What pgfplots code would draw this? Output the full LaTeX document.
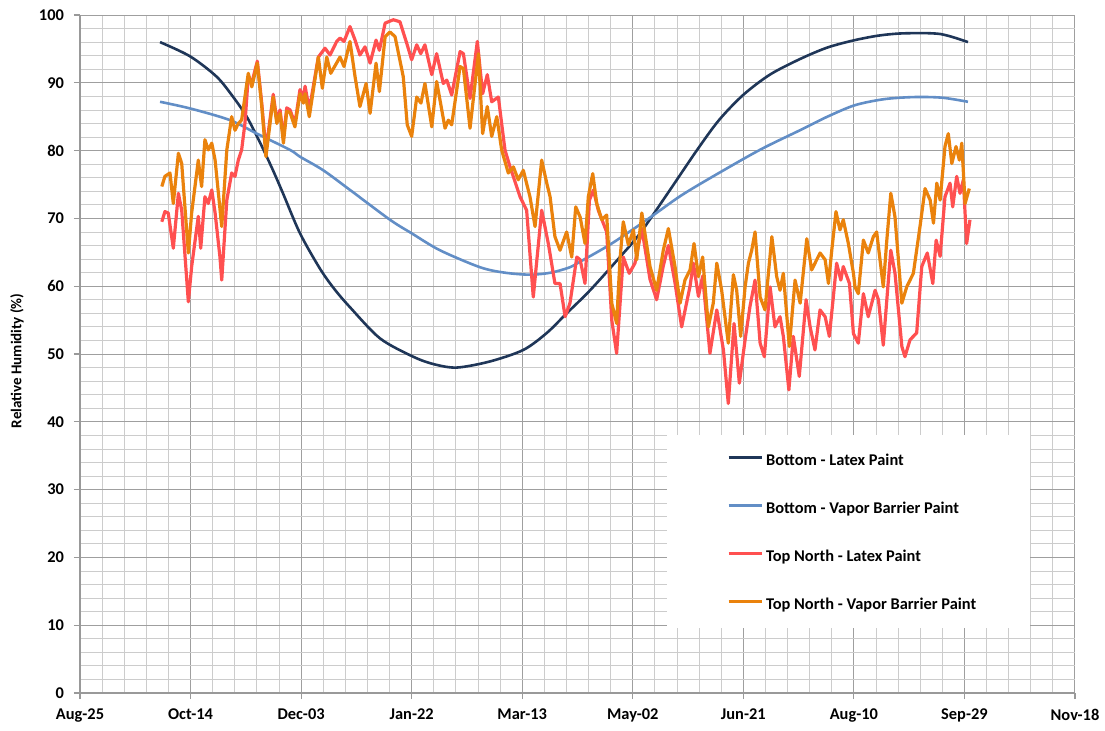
\documentclass[border=0pt]{standalone}
\usepackage{pgfplots}
\pgfplotsset{compat=1.18}
\usepackage{fontspec}
\setmainfont{Carlito}
\definecolor{cnavy}{RGB}{31,54,88}
\definecolor{clblue}{RGB}{98,142,198}
\definecolor{cred}{RGB}{255,80,80}
\definecolor{corange}{RGB}{234,130,12}
\begin{document}
\begin{tikzpicture}
\begin{axis}[name=ax, scale only axis, width=497.5pt, height=339pt,
 xmin=0, xmax=450, ymin=0, ymax=100,
 xtick={0,50,...,450},
 xticklabels={Aug-25,Oct-14,Dec-03,Jan-22,Mar-13,May-02,Jun-21,Aug-10,Sep-29,Nov-18},
 ytick={0,10,...,100},
 minor x tick num=4, minor y tick num=4,
 grid=both,
 major grid style={gray!75, line width=0.5pt},
 minor grid style={gray!40, line width=0.4pt},
 axis lines=left, axis line style={-, gray!80, line width=0.6pt},
 tick align=outside, major tick length=3pt, minor tick length=0pt,
 tick style={gray!80, line width=0.6pt},
 tick label style={font=\bfseries\fontsize{8.2}{10}\selectfont},
 /pgf/number format/assume math mode=true,
 xticklabel style={yshift=-1.5pt},
 yticklabel style={xshift=-1.5pt},
 ylabel={Relative Humidity (\%)},
 every axis y label/.style={at={(axis description cs:0,0.49)}, xshift=-31.5pt, rotate=90, anchor=center, font=\bfseries\fontsize{7.5}{9}\selectfont},
 legend style={draw=none, fill=none, at={(rel axis cs:0.650,0.358)}, anchor=north west,
   font=\bfseries\fontsize{8.2}{10}\selectfont, row sep=13pt, inner sep=0pt,
   nodes={inner sep=1.5pt, text height=6pt, text depth=2pt}},
 legend cell align=left,
 legend image code/.code={\draw[#1, line width=1.5pt] (0pt,2.2pt) -- (16.5pt,2.2pt);},
]
\addplot[cnavy, line width=1.3pt, smooth] coordinates {
(36.2,96.0)(49.8,93.9)(61.8,90.9)(69.3,87.9)(75.4,85.0)(81.4,81.2)(87,77.3)(91.8,73.7)(99.5,67.8)(108.5,62.6)(115,59.6)(122.1,56.9)(135.7,52.3)(150.7,49.6)(160,48.5)(170.4,48.0)(185.4,48.9)(200.5,50.6)(211.1,53.1)(220.1,56.0)(230.7,59.4)(244.2,64.3)(253.3,67.8)(266,73.8)(279.1,80.1)(289,84.5)(299.9,88.2)(312,91.2)(325.6,93.5)(338,95.2)(350.5,96.3)(362,97.0)(373.1,97.3)(389.0,97.2)(401.6,96.0)
};
\addlegendentry{Bottom - Latex Paint}
\addplot[clblue, line width=1.3pt, smooth] coordinates {
(36.2,87.2)(50,86.2)(67.8,84.5)(80,82.5)(95.0,80.1)(99.5,79.1)(110,77.1)(122.1,74.2)(140.2,69.8)(150,67.8)(162.8,65.3)(180.9,62.8)(192,62.0)(203.5,61.7)(213,62.0)(221.6,62.8)(226.1,63.6)(240,66.2)(256.4,69.8)(272,73.4)(289.5,76.8)(308,80.2)(325.6,83.0)(338,85.0)(350.5,86.7)(364,87.6)(377.7,87.9)(390,87.8)(401.6,87.2)
};
\addlegendentry{Bottom - Vapor Barrier Paint}
\addplot[cred, line width=1.6pt, line join=round] coordinates {
(37.0,69.5)(38.4,71.0)(39.9,70.8)(42.2,65.6)(44.5,73.7)(46.0,71.2)(49.0,57.7)(50.5,62.9)(53.5,70.3)(54.6,65.6)(56.5,73.2)(58.0,72.2)(59.6,74.2)(61.1,70.8)(63.3,64.3)(64.1,60.9)(66.4,72.7)(68.6,76.7)(70.1,76.2)(71.6,78.6)(73.1,80.1)(74.6,84.0)(76.1,90.9)(77.7,90.0)(80.2,93.2)(82.2,87.0)(84.1,80.0)(87.4,88.3)(89.0,84.5)(90.5,86.0)(92.0,81.8)(93.5,86.3)(95.0,86.0)(97.2,84.0)(99.5,89.0)(101.0,87.8)(101.8,89.5)(103.7,86.0)(107.8,93.8)(110.8,95.1)(113.1,94.1)(116.1,96.1)(117.6,96.6)(119.4,96.1)(122.1,98.3)(124.4,96.3)(126.6,94.1)(128.9,95.3)(131.2,92.9)(133.9,96.3)(135.4,94.8)(138.0,98.8)(141.7,99.3)(144.7,99.0)(147.8,95.8)(150.0,93.4)(152.3,95.6)(154.1,94.3)(156.0,95.6)(159.1,91.2)(161.3,94.3)(164.3,89.9)(165.9,90.4)(168.1,88.2)(171.9,94.6)(173.4,94.3)(176.4,87.7)(179.7,96.1)(182.1,88.4)(184.2,91.2)(186.2,87.2)(189.2,87.9)(192.2,80.1)(194.5,77.6)(199.0,73.2)(202.0,71.2)(205.0,58.4)(208.8,71.2)(211.8,66.3)(214.8,60.4)(217.1,60.4)(219.4,55.5)(221.6,57.5)(224.7,64.3)(226.2,63.9)(228.4,60.4)(230.4,72.7)(232.2,74.2)(234.4,71.2)(238.2,68.0)(240.5,55.0)(242.7,50.1)(245.7,64.3)(248.4,61.9)(251.0,63.4)(254.1,68.5)(257.8,61.0)(260.8,58.0)(263.8,63.0)(266.1,66.0)(269.1,60.5)(272.1,54.0)(275.9,60.0)(277.4,63.4)(279.7,58.5)(281.6,61.5)(284.9,50.1)(288.0,56.5)(291.0,50.6)(293.2,42.7)(295.8,54.5)(298.2,45.7)(300.8,52.1)(303.0,57.0)(305.3,60.9)(307.6,51.6)(309.5,49.6)(312.1,59.9)(314.3,54.0)(316.6,55.5)(318.1,52.6)(320.6,44.7)(322.6,52.6)(325.3,46.7)(328.4,58.0)(330.2,54.0)(332.4,50.6)(334.7,56.5)(337.0,55.5)(338.9,52.6)(340.7,58.4)(342.2,63.4)(344.1,60.9)(345.2,62.9)(348.0,60.4)(349.8,53.0)(352.0,51.6)(354.3,58.9)(356.5,55.5)(359.6,59.4)(361.1,58.0)(363.3,51.3)(364.9,58.0)(366.7,65.3)(368.6,61.9)(371.7,51.1)(373.1,49.6)(375.4,52.1)(378.4,53.1)(380.7,62.9)(383.2,64.9)(385.7,60.4)(387.2,66.8)(389.0,64.4)(391.2,73.2)(393.5,75.2)(394.7,71.7)(396.5,76.2)(398.0,73.7)(399.5,75.7)(401.0,66.3)(402.5,69.8)
};
\addlegendentry{Top North - Latex Paint}
\addplot[corange, line width=1.6pt, line join=round] coordinates {
(37.0,74.7)(38.4,76.2)(40.7,76.7)(42.2,72.2)(44.5,79.6)(46.0,78.1)(49.0,64.9)(50.5,70.8)(53.5,78.6)(55.0,74.7)(56.5,81.6)(58.0,80.1)(59.6,81.1)(61.1,78.6)(64.1,68.8)(66.4,80.1)(68.6,85.0)(70.1,83.0)(71.6,84.0)(73.1,84.5)(76.1,91.4)(77.7,89.4)(80.2,92.9)(82.2,86.5)(84.1,79.1)(87.4,87.9)(89.0,84.0)(90.5,85.5)(92.0,81.1)(93.5,85.8)(95.0,85.6)(97.2,83.5)(99.5,88.4)(101.0,87.0)(101.8,88.4)(103.7,85.0)(107.8,93.8)(109.6,89.2)(111.6,93.8)(113.4,91.4)(117.6,93.8)(119.4,92.4)(122.1,96.1)(124.4,90.9)(126.6,86.5)(129.4,89.9)(131.2,85.5)(133.9,92.9)(135.4,88.7)(138.0,96.8)(140.2,97.5)(142.5,96.8)(146.2,90.9)(148.0,83.8)(150.0,82.1)(152.3,87.9)(154.2,87.0)(156.0,89.9)(159.1,83.5)(161.3,90.2)(165.1,83.3)(166.6,84.5)(168.1,83.8)(171.9,92.4)(173.4,92.1)(176.4,83.3)(180.2,94.3)(182.1,82.5)(184.2,86.5)(186.2,82.1)(188.5,85.0)(190.7,80.1)(193.7,76.7)(196.0,77.6)(198.2,75.7)(200.5,77.1)(203.5,73.2)(205.8,68.8)(208.8,78.6)(211.1,75.2)(212.6,73.2)(214.8,67.3)(217.1,65.3)(220.1,68.0)(222.4,64.3)(224.2,71.7)(226.2,70.2)(228.4,66.3)(229.9,73.2)(231.9,76.6)(233.7,72.2)(236.0,69.8)(238.2,70.5)(240.5,57.5)(242.7,54.5)(244.2,63.9)(245.7,69.5)(248.0,66.1)(250.3,68.3)(251.8,63.9)(254.1,70.8)(257.8,62.9)(260.8,59.4)(263.8,65.3)(266.1,68.5)(269.1,62.9)(271.4,57.5)(273.6,60.9)(275.9,62.4)(277.7,66.3)(279.7,61.4)(281.6,64.3)(284.2,54.0)(286.4,57.5)(288.0,63.4)(290.2,59.4)(293.2,51.6)(295.5,61.7)(297.0,59.4)(298.8,52.6)(300.8,59.9)(302.3,63.4)(303.8,65.3)(305.3,68.0)(307.6,58.4)(309.8,56.5)(312.9,67.3)(315.1,61.4)(316.6,59.4)(318.1,61.9)(320.8,51.1)(323.4,60.9)(325.7,57.5)(328.7,67.0)(330.9,62.4)(334.7,64.9)(337.0,63.9)(338.5,60.4)(340.0,65.3)(341.9,71.0)(343.7,68.3)(345.2,69.8)(347.5,66.3)(349.8,61.9)(350.5,59.9)(352.0,58.9)(354.3,66.8)(356.5,64.9)(358.8,67.3)(360.3,68.0)(363.3,59.9)(364.9,66.8)(366.7,73.7)(368.6,70.2)(371.7,57.5)(373.9,59.9)(376.9,61.9)(379.9,68.8)(382.2,74.4)(384.5,72.7)(386.0,69.3)(387.5,75.2)(389.0,72.7)(391.2,80.6)(392.7,82.5)(394.3,78.1)(396.2,80.6)(397.7,78.6)(398.8,81.1)(400.3,72.2)(402.2,74.4)
};
\addlegendentry{Top North - Vapor Barrier Paint}
\fill[white] (rel axis cs:0.590,0.0959) rectangle (rel axis cs:0.9548,0.3805);
\end{axis}
\pgfresetboundingbox
\path (ax.south west) ++(-40pt,-18.5pt) rectangle ++(552.5pt,365pt);
\end{tikzpicture}
\end{document}
